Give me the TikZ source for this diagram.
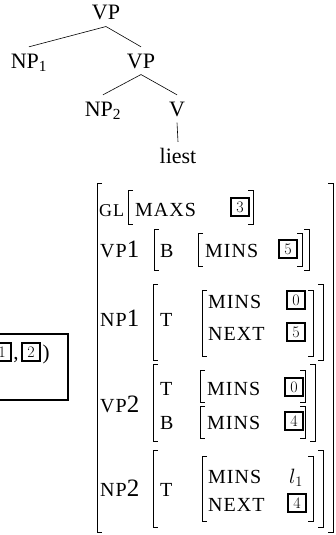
\documentclass[tikz,border=0pt]{standalone}
\usepackage{fontspec}
\newfontfamily\tms{Liberation Serif}
\newfontfamily\tmsc[LetterSpace=5]{Liberation Serif}
\newcommand{\avmf}{\tmsc\fontsize{20}{21}\selectfont}
\newcommand{\bigd}[1]{{\tms\fontsize{25}{25}\selectfont #1}}
\newcommand{\lbrk}[3]{\draw[brk] (#1+5,#2) -- (#1,#2) -- (#1,#3) -- (#1+5,#3);}
\newcommand{\rbrk}[3]{\draw[brk] (#1-5,#2) -- (#1,#2) -- (#1,#3) -- (#1-5,#3);}
\begin{document}
\begin{tikzpicture}[x=1pt,y=-1pt,
    tree/.style={font=\tms\fontsize{22}{24}\selectfont, inner sep=6pt, text height=15pt, anchor=base},
    avm/.style={font=\avmf, inner sep=0pt, anchor=base west},
    tag/.style={draw, line width=1.8pt, minimum size=18pt, inner sep=0pt, font=\fontsize{16}{16}\selectfont},
    brk/.style={line width=0.8pt},
    edge/.style={line width=0.6pt}]
      \useasboundingbox (0,0) rectangle (336,535);
      \clip (0,0) rectangle (336,535);

      \node [tree] (vp) at (106,20) {VP};
      \node [tree] (np1) at (29,68) {NP\textsubscript{1}};
      \node [tree] (vp2) at (141,68) {VP};
      \node [tree] (np2) at (103,116) {NP\textsubscript{2}};
      \node [tree] (v) at (177,116) {V};
      \node [tree] (liest) at (178,163) {liest};
      \draw [edge] (vp.south) -- (np1.north);
      \draw [edge] (vp.south) -- (vp2.north);
      \draw [edge] (vp2.south) -- (np2.north);
      \draw [edge] (vp2.south) -- (v.north);
      \draw [edge] (v.south) -- (liest.north);

      \draw [line width=2pt] (-20,334) rectangle (68,400);
      \node [tag] (a1) at (2,352) {1};
      \node [anchor=base, font=\tms\fontsize{21}{21}\selectfont, inner sep=0pt] (comma) at (16,359) {,};
      \node [tag] (a2) at (31,352) {2};
      \node [anchor=base, font=\tms\fontsize{21}{21}\selectfont, inner sep=0pt] (paren) at (46,359) {)};

      \lbrk{97}{183}{532}
      \rbrk{333}{183}{532}

      \node [avm, font=\tmsc\fontsize{18}{20}\selectfont] (gl) at (99,216) {GL};
      \lbrk{128}{190}{224}
      \node [avm] (maxs) at (135,216) {MAXS};
      \node [tag] (t3) at (240,207) {3};
      \rbrk{253}{190}{224}

      \node [avm] (vpa) at (100,257) {VP\bigd{1}};
      \lbrk{154}{229}{270}
      \node [avm] (vpab) at (160,257) {B};
      \lbrk{198}{233}{266}
      \node [avm] (vpamins) at (205,257) {MINS};
      \node [tag] (t5a) at (288,249) {5};
      \rbrk{302}{233}{266}
      \rbrk{309}{229}{270}

      \node [avm] (npa) at (100,326) {NP\bigd{1}};
      \lbrk{153}{284}{360}
      \node [avm] (npat) at (160,326) {T};
      \lbrk{202}{290}{356}
      \node [avm] (npamins) at (208,308) {MINS};
      \node [avm] (npanext) at (208,340) {NEXT};
      \node [tag] (t0a) at (296,300) {0};
      \node [tag] (t5b) at (296,332) {5};
      \rbrk{313}{290}{356}
      \rbrk{323}{284}{360}

      \node [avm] (vpb) at (100,412) {VP\bigd{2}};
      \lbrk{153}{364}{441}
      \node [avm] (vpbt) at (160,395) {T};
      \node [avm] (vpbb) at (160,429) {B};
      \lbrk{200}{370}{402}
      \node [avm] (vpbtmins) at (207,395) {MINS};
      \node [tag] (t0b) at (294,387) {0};
      \rbrk{305}{370}{402}
      \lbrk{200}{406}{438}
      \node [avm] (vpbbmins) at (207,429) {MINS};
      \node [tag] (t4a) at (294,421) {4};
      \rbrk{305}{406}{438}
      \rbrk{315}{364}{441}

      \node [avm] (npb) at (100,496) {NP\bigd{2}};
      \lbrk{153}{450}{527}
      \node [avm] (npbt) at (160,496) {T};
      \lbrk{202}{456}{521}
      \node [avm] (npbmins) at (208,483) {MINS};
      \node [avm] (npbnext) at (208,511) {NEXT};
      \node [anchor=base, inner sep=0pt, font=\fontsize{22}{22}\selectfont] (l1) at (296,483) {$l_1$};
      \node [tag] (t4b) at (297,503) {4};
      \rbrk{313}{456}{521}
      \rbrk{323}{450}{527}
\end{tikzpicture}
\end{document}
